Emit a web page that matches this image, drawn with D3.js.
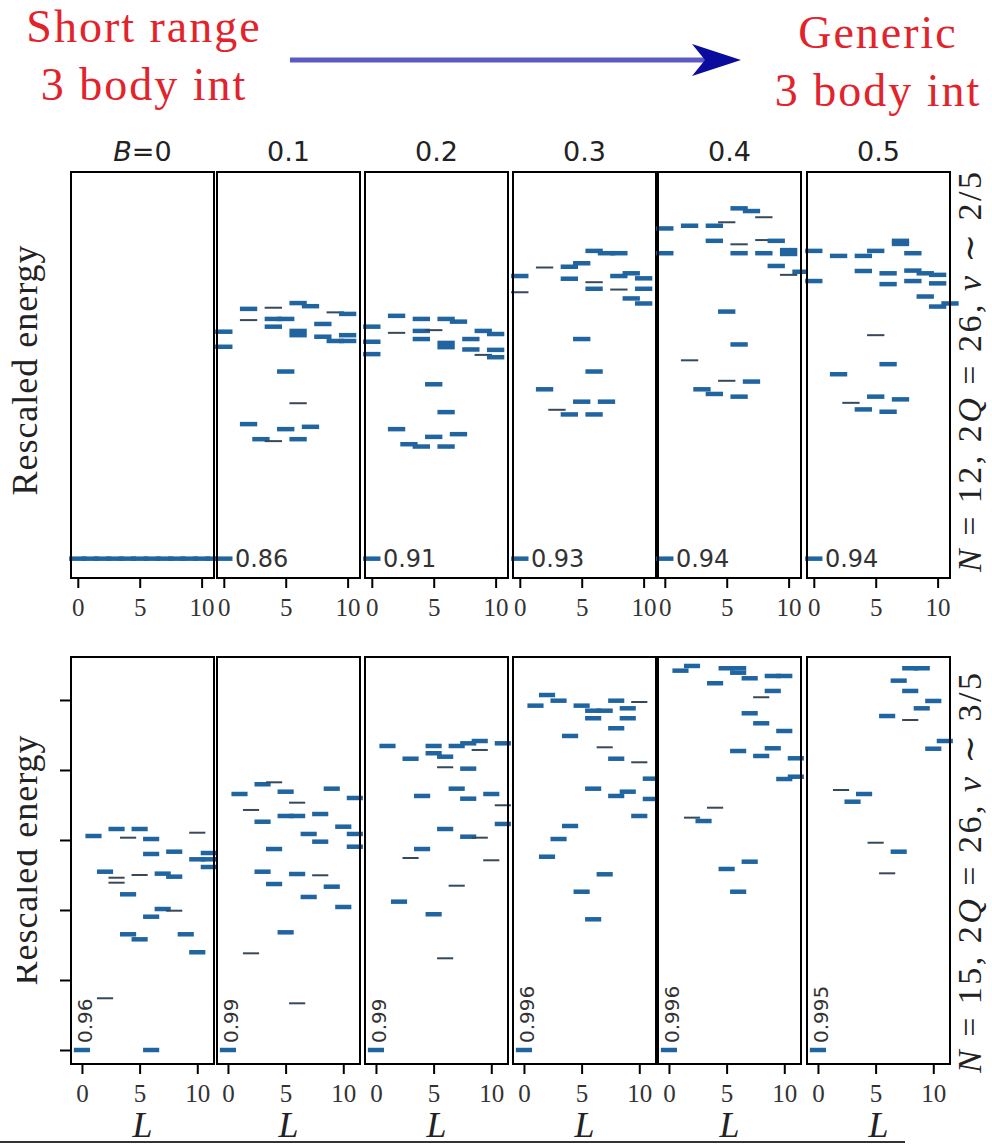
<!DOCTYPE html>
<html>
<head>
<meta charset="utf-8">
<script src="https://cdn.jsdelivr.net/npm/d3@7"></script>
<style>
  body { margin: 0; background: #fff; }
  svg { display: block; }
</style>
</head>
<body>
<div id="chart"></div>
<script>
// three-body coupling B for each column
const couplings = ["0", "0.1", "0.2", "0.3", "0.4", "0.5"];
const Lticks = [0, 5, 10];
const Eticks = [0, 1, 2, 3, 4, 5];

// ground state overlaps printed next to the L=0 level
const overlapN12 = [null, "0.86", "0.91", "0.93", "0.94", "0.94"];
const overlapN15 = ["0.96", "0.99", "0.99", "0.996", "0.996", "0.995"];

// levels: [L, rescaled energy, w]  (w = 1 -> heavy level, 0 -> light level)
const n12_b0 = [[0,0,1],[1,0,1],[2,0,1],[3,0,1],[4,0,1],[5,0,1],[6,0,1],[7,0,1],[8,0,1],[9,0,1],[10,0,1],[11,0,1]];
const n12_b1 = [[0,0,1],
  [0,0.587,1],[0,0.548,1],[2,0.646,1],[2,0.617,0],[4,0.649,0],[4,0.620,1],[5,0.620,1],[4,0.600,1],
  [6,0.661,1],[7,0.653,1],[6,0.589,1],[6,0.578,1],[8,0.607,1],[8,0.574,1],[9,0.637,0],[10,0.633,1],
  [9,0.563,1],[10,0.563,1],[10,0.578,1],[5,0.484,1],[6,0.402,0],[2,0.348,1],[5,0.335,1],[7,0.341,1],
  [3,0.309,1],[4,0.304,0],[6,0.309,1]];
const n12_b2 = [[0,0,1],
  [0,0.600,1],[0,0.561,1],[0,0.529,1],[2,0.628,1],[2,0.584,0],[4,0.620,1],[4,0.589,1],[5,0.591,0],
  [4,0.568,1],[6,0.620,1],[7,0.613,1],[6,0.558,1],[6,0.547,1],[8,0.568,1],[8,0.541,1],[9,0.589,1],
  [10,0.581,1],[9,0.527,0],[10,0.521,1],[10,0.540,1],[5,0.451,1],[6,0.379,1],[2,0.335,1],[5,0.315,1],
  [7,0.322,1],[3,0.296,1],[4,0.290,1],[6,0.290,1]];
const n12_b3 = [[0,0,1],
  [0,0.731,1],[0,0.689,0],[2,0.753,0],[4,0.755,1],[5,0.764,1],[4,0.724,1],[6,0.796,1],[7,0.790,1],
  [8,0.790,1],[6,0.715,0],[6,0.698,1],[8,0.731,1],[9,0.738,1],[10,0.725,1],[8,0.696,0],[10,0.698,1],
  [9,0.673,1],[10,0.660,1],[5,0.568,1],[6,0.484,1],[2,0.438,1],[5,0.406,1],[7,0.406,1],[3,0.385,0],
  [4,0.373,1],[6,0.373,1]];
const n12_b4 = [[0,0,1],
  [0,0.854,1],[0,0.790,1],[2,0.861,1],[4,0.861,1],[5,0.870,0],[6,0.906,1],[7,0.899,1],[8,0.883,0],
  [4,0.822,1],[6,0.813,0],[6,0.790,1],[8,0.790,1],[8,0.824,0],[9,0.822,1],[10,0.798,1],[10,0.788,1],
  [9,0.757,1],[10,0.734,0],[11,0.742,1],[5,0.639,1],[6,0.554,1],[2,0.513,0],[5,0.460,0],[7,0.458,1],
  [3,0.438,1],[4,0.426,1],[6,0.419,1]];
const n12_b5 = [[0,0,1],
  [0,0.796,1],[0,0.718,1],[2,0.783,1],[4,0.783,1],[5,0.796,1],[4,0.744,1],[7,0.822,1],[7,0.814,1],
  [8,0.790,1],[6,0.738,1],[6,0.710,1],[8,0.745,1],[9,0.738,1],[10,0.734,1],[10,0.712,1],[8,0.718,1],
  [9,0.678,1],[10,0.652,1],[11,0.660,1],[5,0.578,0],[6,0.503,1],[2,0.477,1],[5,0.419,1],[7,0.412,1],
  [3,0.403,0],[4,0.386,1],[6,0.380,1]];

const n15_b0 = [[0,0,1],[6,0,1],
  [1,3.057,1],[3,3.157,1],[4,3.033,0],[5,3.157,1],[6,3.014,1],[10,3.104,0],[6,2.800,1],[8,2.833,1],
  [10,2.724,1],[11,2.724,1],[11,2.814,1],[11,2.614,1],[2,2.547,1],[3,2.461,0],[3,2.390,0],[5,2.500,0],
  [7,2.519,1],[8,2.476,1],[4,2.224,1],[7,2.014,1],[8,1.990,0],[6,1.904,1],[4,1.653,1],[5,1.581,1],
  [9,1.653,1],[10,1.396,1],[2,0.739,0]];
const n15_b1 = [[0,0,1],
  [1,3.657,1],[3,3.796,1],[4,3.824,0],[5,3.690,1],[6,3.533,0],[9,3.733,1],[2,3.429,0],[3,3.261,1],
  [5,3.343,1],[6,3.343,1],[8,3.371,1],[7,3.086,1],[8,2.976,1],[10,3.190,1],[11,3.086,1],[11,3.600,1],
  [11,2.904,1],[4,2.871,1],[3,2.547,1],[6,2.514,1],[8,2.496,0],[4,2.371,1],[9,2.333,1],[7,2.186,1],
  [10,2.043,1],[5,1.681,1],[2,1.381,0],[6,0.667,0]];
const n15_b2 = [[0,0,1],
  [1,4.343,1],[3,4.161,1],[5,4.343,1],[5,4.239,1],[6,4.190,1],[7,4.343,1],[8,4.381,1],[9,4.414,1],
  [11,4.381,1],[9,4.286,0],[6,4.039,0],[8,4.019,1],[4,3.629,1],[7,3.733,1],[8,3.590,1],[10,3.657,1],
  [11,3.496,0],[11,3.229,1],[6,3.157,1],[8,3.047,1],[9,3.033,0],[4,2.871,1],[3,2.743,0],[10,2.710,0],
  [7,2.347,0],[2,2.119,1],[5,1.939,1],[6,1.310,0]];
const n15_b3 = [[0,0,1],
  [2,5.071,1],[3,4.990,1],[1,4.919,1],[5,4.919,1],[6,4.847,1],[7,4.847,1],[8,4.990,1],[10,4.971,0],
  [9,4.881,1],[6,4.739,1],[9,4.739,1],[8,4.596,1],[4,4.486,1],[7,4.324,0],[8,4.161,1],[10,4.110,0],
  [11,3.876,1],[6,3.733,1],[8,3.629,1],[9,3.690,1],[10,3.343,1],[11,3.586,1],[4,3.200,1],[3,3.014,1],
  [2,2.761,1],[7,2.510,1],[5,2.261,1],[6,1.867,1]];
const n15_b4 = [[0,0,1],
  [1,5.419,1],[2,5.486,1],[4,5.239,1],[5,5.453,1],[6,5.453,1],[6,5.390,1],[7,5.310,1],[9,5.343,1],
  [10,5.343,1],[9,5.129,1],[8,5.039,0],[7,4.810,1],[8,4.667,1],[10,4.557,1],[6,4.271,1],[9,4.310,1],
  [8,4.200,1],[11,4.167,1],[10,3.871,1],[11,3.904,1],[4,3.461,0],[2,3.319,0],[3,3.271,1],[7,2.690,1],
  [5,2.586,1],[6,2.261,1]];
const n15_b5 = [[0,0,1],
  [8,5.453,1],[9,5.453,1],[7,5.276,1],[8,5.129,1],[10,4.986,1],[9,4.881,1],[6,4.771,1],[8,4.714,0],
  [11,4.414,1],[10,4.304,1],[2,3.714,0],[4,3.657,1],[3,3.547,1],[5,2.961,0],[7,2.833,1],[6,2.524,0]];

const spectraN12 = [n12_b0, n12_b1, n12_b2, n12_b3, n12_b4, n12_b5];
const spectraN15 = [n15_b0, n15_b1, n15_b2, n15_b3, n15_b4, n15_b5];

const width = 992, height = 1145;
const panelX = [71, 217, 365, 513, 658, 807];
const panelW = 143;
const halfBar = 0.7;
const serif = "Liberation Serif, DejaVu Serif, serif";
const sans = "DejaVu Sans, sans-serif";

const rows = [
  {top: 172, bottom: 578, xDomain: [-0.55, 11.0], yDomain: [-0.05, 1.0],
   spectra: spectraN12, overlaps: overlapN12, yTicks: false, xLabel: false},
  {top: 657, bottom: 1064, xDomain: [-0.95, 11.45], yDomain: [-0.2, 5.614],
   spectra: spectraN15, overlaps: overlapN15, yTicks: true, xLabel: true}
];

const svg = d3.select("#chart").append("svg")
    .attr("width", width)
    .attr("height", height)
    .style("background", "#fff");

const barColor = w => w ? "#2064a0" : "#36495b";
const barWidth = w => w ? 4.5 : 2;

rows.forEach((row, r) => {
    const y = d3.scaleLinear().domain(row.yDomain).range([row.bottom, row.top]);

    panelX.forEach((left, i) => {
        const x = d3.scaleLinear().domain(row.xDomain).range([left, left + panelW]);
        const g = svg.append("g");

        // axes background hides overflow from the panel on the left
        g.append("rect")
            .attr("x", left).attr("y", row.top)
            .attr("width", panelW).attr("height", row.bottom - row.top)
            .attr("fill", "#fff");

        g.selectAll("line.level")
            .data(row.spectra[i])
            .join("line")
            .attr("class", "level")
            .attr("x1", d => x(d[0] - halfBar))
            .attr("x2", d => x(d[0] + halfBar))
            .attr("y1", d => y(d[1]))
            .attr("y2", d => y(d[1]))
            .attr("stroke", d => barColor(d[2]))
            .attr("stroke-width", d => barWidth(d[2]));

        // overlap with the model state
        const ov = row.overlaps[i];
        if (ov && r === 0) {
            g.append("text")
                .attr("x", x(0.9))
                .attr("y", y(0))
                .attr("dy", "0.36em")
                .attr("font-family", sans)
                .attr("font-size", 24)
                .attr("fill", "#333")
                .text(ov);
        } else if (ov) {
            g.append("text")
                .attr("transform", `translate(${x(0.85)},${y(0.1)}) rotate(-90)`)
                .attr("font-family", sans)
                .attr("font-size", 20)
                .attr("fill", "#333")
                .text(ov);
        }

        g.append("rect")
            .attr("x", left).attr("y", row.top)
            .attr("width", panelW).attr("height", row.bottom - row.top)
            .attr("fill", "none")
            .attr("stroke", "#000")
            .attr("stroke-width", 2);

        const ax = g.append("g")
            .attr("transform", `translate(0,${row.bottom})`)
            .call(d3.axisBottom(x).tickValues(Lticks).tickSize(10).tickPadding(10));
        ax.select(".domain").remove();
        ax.selectAll("line").attr("stroke", "#000").attr("stroke-width", 2);
        ax.attr("font-family", serif).attr("font-size", 25);
        ax.selectAll("text").attr("fill", "#333");

        if (row.xLabel) {
            g.append("text")
                .attr("x", left + panelW / 2)
                .attr("y", 1137)
                .attr("text-anchor", "middle")
                .attr("font-family", serif)
                .attr("font-style", "italic")
                .attr("font-size", 36)
                .attr("fill", "#222")
                .text("L");
        }

        if (row.yTicks && i === 0) {
            const ay = g.append("g")
                .attr("transform", `translate(${left},0)`)
                .call(d3.axisLeft(y).tickValues(Eticks).tickSize(11).tickFormat(""));
            ay.select(".domain").remove();
            ay.selectAll("line").attr("stroke", "#000").attr("stroke-width", 2);
        }
    });
});

// rule under the bottom row labels
svg.append("line")
    .attr("x1", 0).attr("x2", 905)
    .attr("y1", 1142).attr("y2", 1142)
    .attr("stroke", "#333")
    .attr("stroke-width", 2);

// column headers
svg.append("g")
    .selectAll("text")
    .data(couplings)
    .join("text")
    .attr("x", (d, i) => panelX[i] + panelW / 2)
    .attr("y", 161)
    .attr("text-anchor", "middle")
    .attr("font-family", sans)
    .attr("font-size", 27)
    .attr("fill", "#222")
    .each(function(d, i) {
        const t = d3.select(this);
        if (i === 0) {
            t.append("tspan").attr("font-style", "italic").text("B");
            t.append("tspan").text("=" + d);
        } else {
            t.text(d);
        }
    });

// y axis titles
svg.append("defs").append("clipPath").attr("id", "cutLeft")
  .append("rect").attr("x", 17).attr("y", 640).attr("width", 60).attr("height", 420);

[[370, null], [860, "url(#cutLeft)"]].forEach(([cy, clip]) => {
    svg.append("g").attr("clip-path", clip)
      .append("text")
        .attr("transform", `translate(37,${cy}) rotate(-90)`)
        .attr("text-anchor", "middle")
        .attr("font-family", serif)
        .attr("font-size", 36)
        .attr("letter-spacing", 1)
        .attr("fill", "#222")
        .text("Rescaled energy");
});

// system size labels on the right
const sysLabels = [
    {cy: 372, parts: [["N", 1], [" = 12, 2", 0], ["Q", 1], [" = 26, ", 0], ["ν", 1], [" ∼ 2/5", 0]]},
    {cy: 873, parts: [["N", 1], [" = 15, 2", 0], ["Q", 1], [" = 26, ", 0], ["ν", 1], [" ∼ 3/5", 0]]}
];
sysLabels.forEach(lab => {
    const t = svg.append("text")
        .attr("transform", `translate(981,${lab.cy}) rotate(-90)`)
        .attr("text-anchor", "middle")
        .attr("font-family", serif)
        .attr("font-size", 34)
        .attr("fill", "#222")
        .attr("textLength", 400)
        .attr("lengthAdjust", "spacing");
    lab.parts.forEach(([s, it]) => {
        t.append("tspan").attr("font-style", it ? "italic" : "normal").text(s);
    });
});

// interaction labels and arrow
const red = "#e2232b";
const redText = [
    {x: 144, y: 42, s: "Short range"},
    {x: 144, y: 100, s: "3 body int"},
    {x: 878, y: 48, s: "Generic"},
    {x: 878, y: 106, s: "3 body int"}
];
svg.append("g")
    .selectAll("text")
    .data(redText)
    .join("text")
    .attr("x", d => d.x)
    .attr("y", d => d.y)
    .attr("text-anchor", "middle")
    .attr("font-family", serif)
    .attr("font-size", 46)
    .attr("letter-spacing", 2)
    .attr("fill", red)
    .text(d => d.s);

svg.append("line")
    .attr("x1", 290).attr("x2", 712)
    .attr("y1", 60).attr("y2", 60)
    .attr("stroke", "#5a5ac2")
    .attr("stroke-width", 5);
svg.append("path")
    .attr("d", "M741,60 L692,44 L705,60 L692,76 Z")
    .attr("fill", "#0b0b9e");
</script>
</body>
</html>
